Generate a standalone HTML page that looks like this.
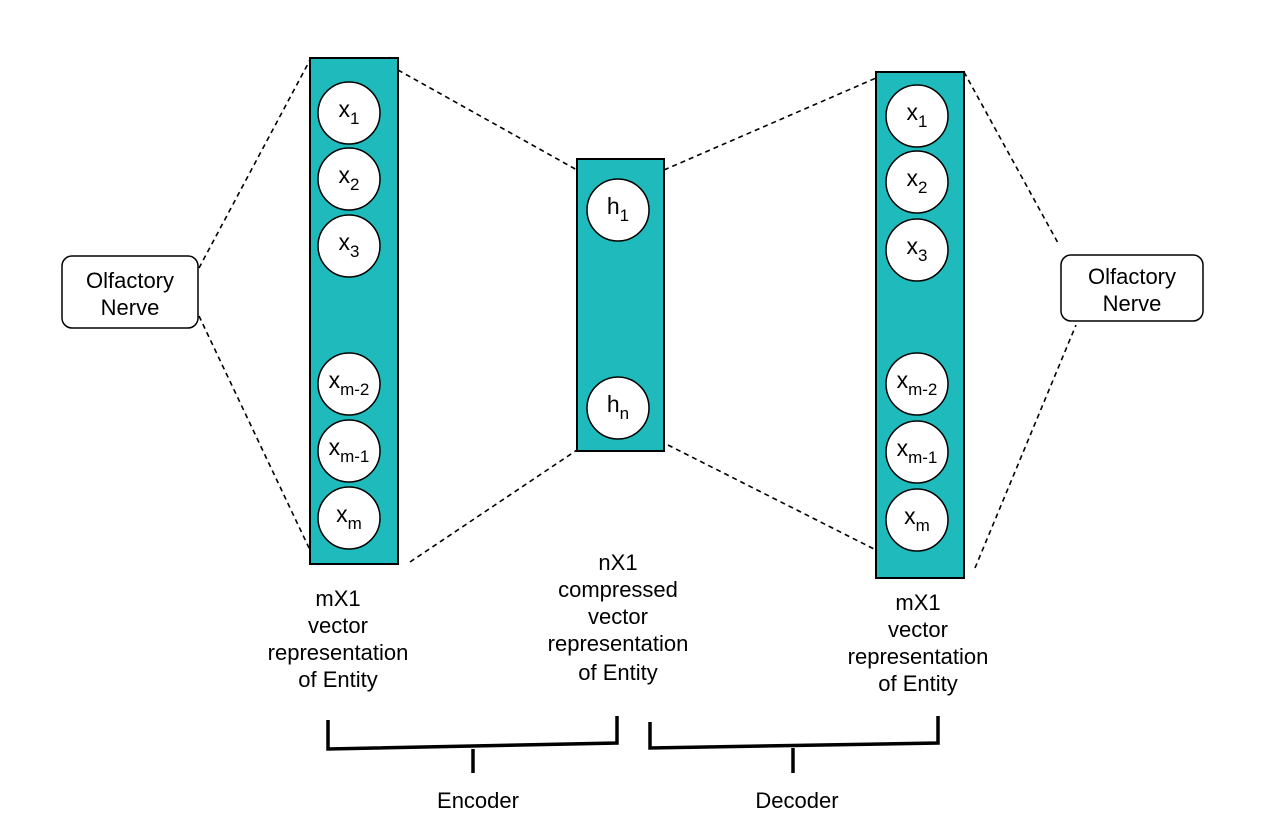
<!DOCTYPE html>
<html><head><meta charset="utf-8"><style>
html,body{margin:0;padding:0;background:#fff;}
svg{display:block;font-family:"Liberation Sans",Arial,sans-serif;}
text{fill:#000;}
</style></head><body>
<svg width="1270" height="832" viewBox="0 0 1270 832">
<g stroke="#000" stroke-width="1.6" stroke-dasharray="5,4" fill="none">
<line x1="199" y1="268" x2="310" y2="60"/>
<line x1="199" y1="316" x2="310" y2="550"/>
<line x1="398" y1="70" x2="577" y2="170"/>
<line x1="410" y1="562" x2="577" y2="450"/>
<line x1="664" y1="170" x2="876" y2="78"/>
<line x1="668" y1="445" x2="876" y2="550"/>
<line x1="964" y1="72" x2="1058" y2="243"/>
<line x1="975" y1="568" x2="1076" y2="325"/>
</g>
<g>
<rect x="62" y="256" width="136" height="72" rx="10" fill="#fff" stroke="#000" stroke-width="1.5"/>
<text x="130" y="288" font-size="22" text-anchor="middle">Olfactory</text>
<text x="130" y="315" font-size="22" text-anchor="middle">Nerve</text>
</g>
<g>
<rect x="1061" y="255" width="142" height="66" rx="10" fill="#fff" stroke="#000" stroke-width="1.5"/>
<text x="1132" y="284" font-size="22" text-anchor="middle">Olfactory</text>
<text x="1132" y="311" font-size="22" text-anchor="middle">Nerve</text>
</g>
<g>
<rect x="310" y="58" width="88" height="506" fill="#1fbabb" stroke="#000" stroke-width="2"/>
</g>
<g>
<rect x="577" y="159" width="87" height="292" fill="#1fbabb" stroke="#000" stroke-width="2"/>
</g>
<g>
<rect x="876" y="72" width="88" height="506" fill="#1fbabb" stroke="#000" stroke-width="2"/>
</g>
<g id="nodes"></g>
<g font-size="22" text-anchor="middle">
<text x="338" y="606">mX1</text><text x="338" y="633">vector</text><text x="338" y="660">representation</text><text x="338" y="687">of Entity</text>
<text x="618" y="570">nX1</text><text x="618" y="597">compressed</text><text x="618" y="624">vector</text><text x="618" y="651">representation</text><text x="618" y="680">of Entity</text>
<text x="918" y="610">mX1</text><text x="918" y="637">vector</text><text x="918" y="664">representation</text><text x="918" y="691">of Entity</text>
</g>
<g stroke="#000" stroke-width="3.5" fill="none">
<polyline points="328,720 328,749 617,743 617,716"/>
<line x1="473" y1="749" x2="473" y2="773"/>
<polyline points="650,722 650,748 938,743 938,716"/>
<line x1="793" y1="748" x2="793" y2="773"/>
</g>
<text x="478" y="808" font-size="22" text-anchor="middle">Encoder</text>
<text x="797" y="808" font-size="22" text-anchor="middle">Decoder</text>
</svg>
<script>
const inputYs=[113,179,246,384,451,518];
const outputYs=[116,182,250,384,452,520];
const hiddenYs=[210,408];
const xSubs=['1','2','3','m-2','m-1','m'];
const hSubs=['1','n'];
const g=document.getElementById('nodes');
const NS='http://www.w3.org/2000/svg';
function node(cx,cy,base,sub,name){
  const grp=document.createElementNS(NS,'g');
  
  
  const c=document.createElementNS(NS,'circle');
  c.setAttribute('cx',cx);c.setAttribute('cy',cy);c.setAttribute('r',31);
  c.setAttribute('fill','#fff');c.setAttribute('stroke','#000');c.setAttribute('stroke-width','1.5');
  grp.appendChild(c);
  const t=document.createElementNS(NS,'text');
  t.setAttribute('x',cx);t.setAttribute('y',cy+4);t.setAttribute('text-anchor','middle');t.setAttribute('font-size','23');
  t.textContent=base;
  const s=document.createElementNS(NS,'tspan');
  s.setAttribute('font-size','17');s.setAttribute('dy','7');
  s.textContent=sub;
  t.appendChild(s);
  grp.appendChild(t);
  g.appendChild(grp);
}
inputYs.forEach((y,i)=>node(349,y,'x',xSubs[i],'input-node'));
outputYs.forEach((y,i)=>node(917,y,'x',xSubs[i],'output-node'));
hiddenYs.forEach((y,i)=>node(618,y,'h',hSubs[i],'hidden-node'));
</script>
</body></html>
